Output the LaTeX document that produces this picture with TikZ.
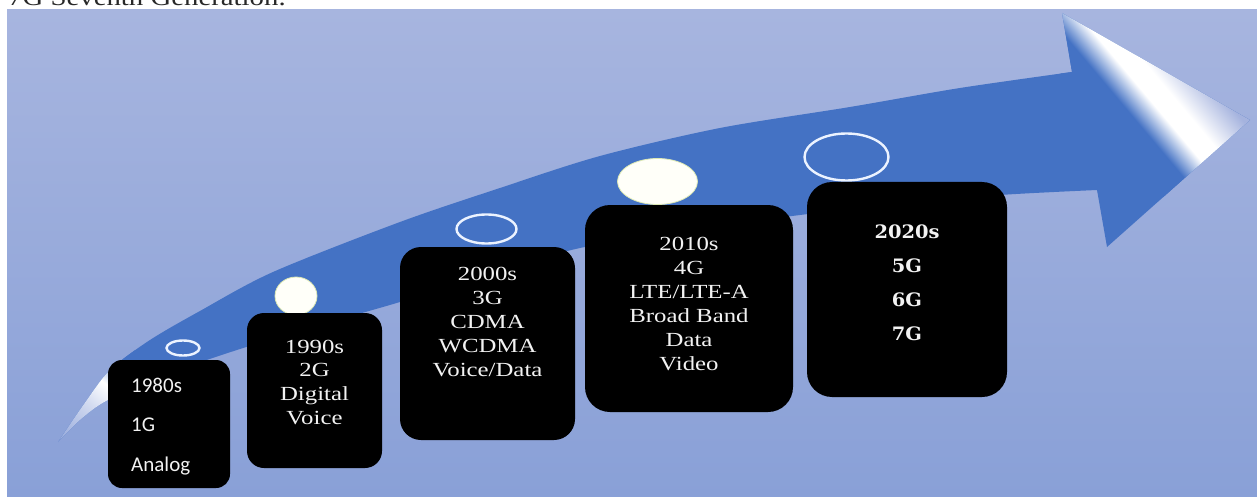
\documentclass[tikz,border=0pt]{standalone}
\usepackage{fontspec}
\setmainfont{Liberation Serif}
\newfontfamily\calfont{Carlito}
\newfontfamily\wideserif{DejaVu Serif}
\usepackage{graphicx}
\usetikzlibrary{shapes.geometric}

% palette
\definecolor{paneltop}{RGB}{167,181,223}
\definecolor{panelbot}{RGB}{137,160,215}
\definecolor{bandblue}{RGB}{68,114,196}
\definecolor{tailbg}{RGB}{146,166,218}
\definecolor{headbg}{RGB}{165,179,222}
\colorlet{tailmid}{tailbg!40!white}
\colorlet{headmid}{bandblue!50!white}
\definecolor{ringwhite}{RGB}{236,243,255}
\definecolor{dotfill}{RGB}{255,255,249}
\definecolor{dotedge}{RGB}{220,232,180}
\definecolor{labelwhite}{RGB}{242,242,242}
\definecolor{captiongray}{RGB}{40,40,40}

% fade of the arrow tail and sheen of the arrow head
\pgfdeclarehorizontalshading{tailfade}{100bp}{color(0bp)=(tailbg); color(32bp)=(tailbg);
  color(50bp)=(tailmid); color(59bp)=(white); color(70bp)=(bandblue); color(100bp)=(bandblue)}
\pgfdeclarehorizontalshading{headsheen}{100bp}{color(0bp)=(bandblue); color(35bp)=(bandblue);
  color(39.3bp)=(headmid); color(43.6bp)=(white); color(50.7bp)=(white); color(64.3bp)=(headbg); color(100bp)=(headbg)}

% outline of the curved arrow (pixel units, y downwards)
\newcommand\bandoutline{plot[smooth,tension=0.5] coordinates {(58,442) (84,404) (110,370) (150,340)
  (200,311) (273,272) (400,222) (500,188) (600,156) (720,128) (850,107) (960,88) (1072,72)}
  -- (1062,13) -- (1250,120) -- (1107,247)
  -- plot[smooth,tension=0.5] coordinates {(1097,190) (1000,195) (900,204) (800,215) (700,229)
  (580,248) (480,277) (400,302) (320,325) (240,349) (170,373) (108,400) (80,420) (58,442)} -- cycle}

\tikzset{
  genbox/.style={rectangle, fill=black, inner sep=0},
  ringmark/.style={ellipse, draw=ringwhite, line width=2.4pt, inner sep=0},
  dotmark/.style={ellipse, fill=dotfill, draw=dotedge, line width=0.8pt, inner sep=0},
  serifline/.style={anchor=base, inner sep=0, text=labelwhite, font=\fontsize{20}{24}\selectfont},
  sansline/.style={anchor=base west, inner sep=0, text=labelwhite, font=\calfont\fontsize{21}{24}\selectfont},
  wideline/.style={anchor=base, inner sep=0, text=labelwhite, font=\wideserif\bfseries\fontsize{18.5}{24}\selectfont},
}

\begin{document}
\begin{tikzpicture}[x=1pt,y=-1pt]
\useasboundingbox (0,0) rectangle (1257,497);
\clip (0,0) rectangle (1257,497);
\fill[white] (0,0) rectangle (1257,497);

% caption line above the panel
\node[anchor=base west, inner sep=0, text=captiongray, font=\fontsize{24}{24}\selectfont]
  (caption) at (8,5.5) {\scalebox{1.2}[1]{7G Seventh Generation.}};

% panel
\shade[top color=paneltop, bottom color=panelbot] (7,10) rectangle (1257,497);

% curved arrow
\fill[bandblue] \bandoutline;
\begin{scope}
  \clip \bandoutline;
  \begin{scope}[transform canvas={shift={(58,442)}, rotate=50}]
    \shade[shading=tailfade] (-20,-150) rectangle (120,150);
  \end{scope}
  \begin{scope}[transform canvas={shift={(1130,95)}, rotate=40}]
    \shade[shading=headsheen] (-40,-250) rectangle (100,250);
  \end{scope}
\end{scope}

% markers above the generations
\node[ringmark, minimum width=33, minimum height=15] (r1) at (183,348) {};
\node[dotmark,  minimum width=42, minimum height=38] (r2) at (296,296) {};
\node[ringmark, minimum width=60, minimum height=29] (r3) at (486.5,229) {};
\node[dotmark,  minimum width=80, minimum height=46] (r4) at (657.5,181.5) {};
\node[ringmark, minimum width=84, minimum height=47] (r5) at (846.5,157) {};

% generation boxes
\node[genbox, minimum width=122, minimum height=128, rounded corners=14] (b1) at (169,424) {};
\node[genbox, minimum width=135, minimum height=155, rounded corners=17] (b2) at (314.5,390.5) {};
\node[genbox, minimum width=175, minimum height=193, rounded corners=21] (b3) at (487.5,343.5) {};
\node[genbox, minimum width=208, minimum height=207, rounded corners=25] (b4) at (689,308.5) {};
\node[genbox, minimum width=200, minimum height=215, rounded corners=25] (b5) at (907,289.5) {};

% box texts
\foreach \t [count=\i] in {1980s,1G,Analog}
  \node[sansline] (t1-\i) at (131,{392+39.5*(\i-1)}) {\t};
\foreach \t [count=\i] in {1990s,2G,Digital,Voice}
  \node[serifline] (t2-\i) at (314.5,{353+23.7*(\i-1)}) {\scalebox{1.24}[1]{\t}};
\foreach \t [count=\i] in {2000s,3G,CDMA,WCDMA,Voice/Data}
  \node[serifline] (t3-\i) at (487.5,{280+24*(\i-1)}) {\scalebox{1.24}[1]{\t}};
\foreach \t [count=\i] in {2010s,4G,LTE/LTE-A,Broad Band,Data,Video}
  \node[serifline] (t4-\i) at (689,{250+24*(\i-1)}) {\scalebox{1.24}[1]{\t}};
\foreach \t [count=\i] in {2020s,5G,6G,7G}
  \node[wideline] (t5-\i) at (907,{238+34*(\i-1)}) {\scalebox{1.05}[1]{\t}};
\end{tikzpicture}
\end{document}
